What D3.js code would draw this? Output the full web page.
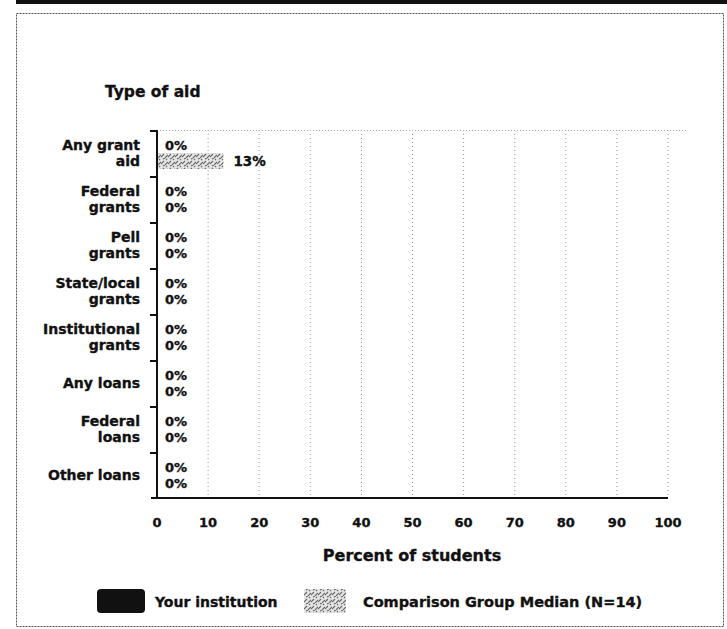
<!DOCTYPE html>
<html>
<head>
<meta charset="utf-8">
<script src="https://cdnjs.cloudflare.com/ajax/libs/d3/7.8.5/d3.min.js"></script>
<style>
  body { margin: 0; background: #fff; }
  text { font-family: "DejaVu Sans", Verdana, sans-serif; font-weight: bold; fill: #111; stroke: #111; stroke-width: 0.35px; }
</style>
</head>
<body>
<div id="aid_chart"></div>
<script>
// data
var categories = [["Any grant", "aid"], ["Federal", "grants"], ["Pell", "grants"], ["State/local", "grants"],
  ["Institutional", "grants"], ["Any loans"], ["Federal", "loans"], ["Other loans"]]
var yourInstitution = [0, 0, 0, 0, 0, 0, 0, 0]
var comparisonMedian = [13, 0, 0, 0, 0, 0, 0, 0]
var xTicks = [0, 10, 20, 30, 40, 50, 60, 70, 80, 90, 100]
var seriesNames = ["Your institution", "Comparison Group Median (N=14)"]

var width = 727
    height = 629

var svg = d3.select("#aid_chart")
  .append("svg")
    .attr("width", width)
    .attr("height", height)

// scanned page frame
svg.append("rect")
  .attr("x", 16).attr("y", 0).attr("width", 711).attr("height", 4)
  .attr("fill", "#111")
svg.append("rect")
  .attr("x", 16.5).attr("y", 13.5).attr("width", 707).attr("height", 613)
  .attr("fill", "none")
  .attr("stroke", "#555")
  .attr("stroke-dasharray", "2,1")

// speckled pattern for comparison group
var defs = svg.append("defs")
var pat = defs.append("pattern")
  .attr("id", "speckle")
  .attr("patternUnits", "userSpaceOnUse")
  .attr("width", 7).attr("height", 7)
pat.append("rect").attr("width", 7).attr("height", 7).attr("fill", "#e4e4e4")
pat.append("path")
  .attr("d", "M0,6 L3,3 M4,7 L7,4 M2,1 L4,0 M5,2 L6,1")
  .attr("stroke", "#666")
  .attr("stroke-width", 1.1)

// scales
var x = d3.scaleLinear().domain([0, 100]).range([157, 668])
var y = d3.scaleBand().domain(d3.range(categories.length)).range([130, 498])
var inner = d3.scaleBand().domain([0, 1]).range([7, 39])

// grid
svg.append("g")
  .selectAll("line")
  .data(xTicks.slice(1))
  .enter()
  .append("line")
    .attr("x1", function(d) { return x(d) })
    .attr("x2", function(d) { return x(d) })
    .attr("y1", 130)
    .attr("y2", 498)
    .attr("stroke", "#999")
    .attr("stroke-width", 1)
    .attr("stroke-dasharray", "1,3")
svg.append("line")
  .attr("x1", x(0)).attr("x2", x(100) + 20)
  .attr("y1", 130.5).attr("y2", 130.5)
  .attr("stroke", "#aaa")
  .attr("stroke-dasharray", "1,2")

// bars
var rows = categories.map(function(c, i) {
  return {i: i, values: [yourInstitution[i], comparisonMedian[i]]}
})

var row = svg.selectAll(".row")
  .data(rows)
  .enter()
  .append("g")
  .attr("class", "row")
  .attr("transform", function(d) { return "translate(0," + y(d.i) + ")" })

row.selectAll("rect")
  .data(function(d) { return d.values })
  .enter()
  .append("rect")
    .attr("x", x(0))
    .attr("y", function(d, j) { return inner(j) })
    .attr("width", function(d) { return x(d) - x(0) })
    .attr("height", inner.bandwidth())
    .attr("fill", function(d, j) { return j == 0 ? "#111" : "url(#speckle)" })

row.selectAll(".val")
  .data(function(d) { return d.values })
  .enter()
  .append("text")
    .attr("class", "val")
    .attr("x", function(d) { return x(d) + (d > 0 ? 10 : 8) })
    .attr("y", function(d, j) { return inner(j) + inner.bandwidth() / 2 })
    .attr("dy", "0.36em")
    .style("font-size", function(d) { return d > 0 ? "13.5px" : "13px" })
    .text(function(d) { return d + "%" })

// category labels
row.append("text")
  .attr("text-anchor", "end")
  .attr("x", 140)
  .attr("y", y.bandwidth() / 2)
  .style("font-size", "14px")
  .selectAll("tspan")
  .data(function(d) { return categories[d.i] })
  .enter()
  .append("tspan")
    .attr("x", 140)
    .attr("dy", function(d, k, nodes) {
      if (k == 0) return (0.36 - (nodes.length - 1) * 0.55) + "em"
      return "1.1em"
    })
    .text(function(d) { return d })

// y axis
svg.append("line")
  .attr("x1", x(0)).attr("x2", x(0))
  .attr("y1", 130).attr("y2", 499)
  .attr("stroke", "#111").attr("stroke-width", 2)
svg.append("g")
  .selectAll("line")
  .data(d3.range(categories.length))
  .enter()
  .append("line")
    .attr("x1", x(0) - 7).attr("x2", x(0))
    .attr("y1", function(d) { return y(d) + 1 })
    .attr("y2", function(d) { return y(d) + 1 })
    .attr("stroke", "#111").attr("stroke-width", 2)

// x axis
svg.append("line")
  .attr("x1", x(0) - 6).attr("x2", x(100))
  .attr("y1", 498).attr("y2", 498)
  .attr("stroke", "#111").attr("stroke-width", 2)
svg.append("g")
  .selectAll("text")
  .data(xTicks)
  .enter()
  .append("text")
    .attr("x", function(d) { return x(d) })
    .attr("y", 527)
    .attr("text-anchor", "middle")
    .style("font-size", "13px")
    .text(function(d) { return d })

// titles
svg.append("text")
  .attr("x", 105).attr("y", 97)
  .style("font-size", "15.5px")
  .text("Type of aid")
svg.append("text")
  .attr("x", 412).attr("y", 561)
  .attr("text-anchor", "middle")
  .style("font-size", "16px")
  .text("Percent of students")

// legend
var legend = svg.selectAll(".legend")
  .data(seriesNames)
  .enter()
  .append("g")
  .attr("class", "legend")
  .attr("transform", function(d, i) { return "translate(" + (i == 0 ? 97 : 304) + ",589)" })
legend.append("rect")
  .attr("width", function(d, i) { return i == 0 ? 48 : 42 })
  .attr("height", 24)
  .attr("rx", function(d, i) { return i == 0 ? 4 : 0 })
  .attr("fill", function(d, i) { return i == 0 ? "#111" : "url(#speckle)" })
legend.append("text")
  .attr("x", function(d, i) { return i == 0 ? 58 : 59 })
  .attr("y", 18)
  .style("font-size", function(d, i) { return i == 0 ? "14px" : "14.5px" })
  .text(function(d) { return d })
</script>
</body>
</html>
